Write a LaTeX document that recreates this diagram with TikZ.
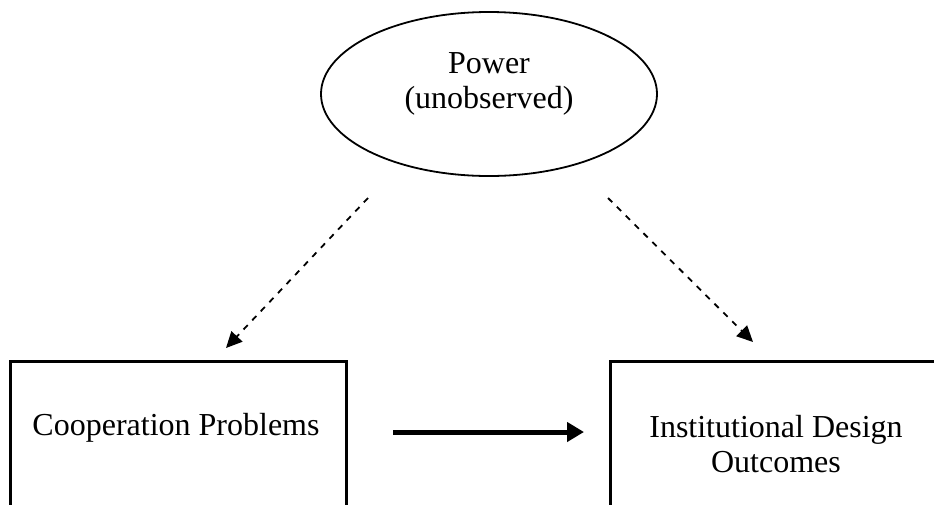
\documentclass[tikz,border=0pt]{standalone}
\usepackage{fontspec}
\setmainfont{Liberation Serif}
\usepackage{tikz}
\usetikzlibrary{shapes.geometric,arrows.meta,positioning,calc}

\begin{document}
\begin{tikzpicture}[
  x=1pt,y=-1pt,
  latent/.style={ellipse,draw,line width=1.8pt,minimum width=336pt,minimum height=164pt,inner sep=0pt},
  varbox/.style={rectangle,draw,line width=2.6pt,anchor=north west,minimum height=220pt,inner sep=0pt},
  lbl/.style={font=\fontsize{32}{35}\selectfont,align=center,inner sep=0pt},
  maybe/.style={dash pattern=on 6pt off 6.5pt,line width=1.8pt,-{Triangle[length=16pt,width=15pt]}},
  cause/.style={line width=5pt,-{Triangle[length=17pt,width=19pt]}}
]
\useasboundingbox (0,0) rectangle (934,504);
% latent variable
\node[latent] (pow) at (489,94) {};
\node[lbl,anchor=base] (powtxt) at (489,108) {Power\\(unobserved)};
% observed variables
\node[varbox,minimum width=336pt] (coop) at (9,360) {};
\node[varbox,minimum width=340pt] (inst) at (609,360) {};
\node[lbl,anchor=base] (cooptxt) at (176,435) {Cooperation Problems};
\node[lbl,anchor=base] (insttxt) at (776,472) {Institutional Design\\Outcomes};
% arrows
\coordinate (p1) at (368,198);
\coordinate (c1) at (226,348);
\coordinate (p2) at (608,198);
\coordinate (i1) at (753,342);
\draw[maybe] (p1) -- (c1);
\draw[maybe] (p2) -- (i1);
\coordinate (a1) at (393,432);
\coordinate (a2) at (584,432);
\draw[cause] (a1) -- (a2);
\end{tikzpicture}
\end{document}
